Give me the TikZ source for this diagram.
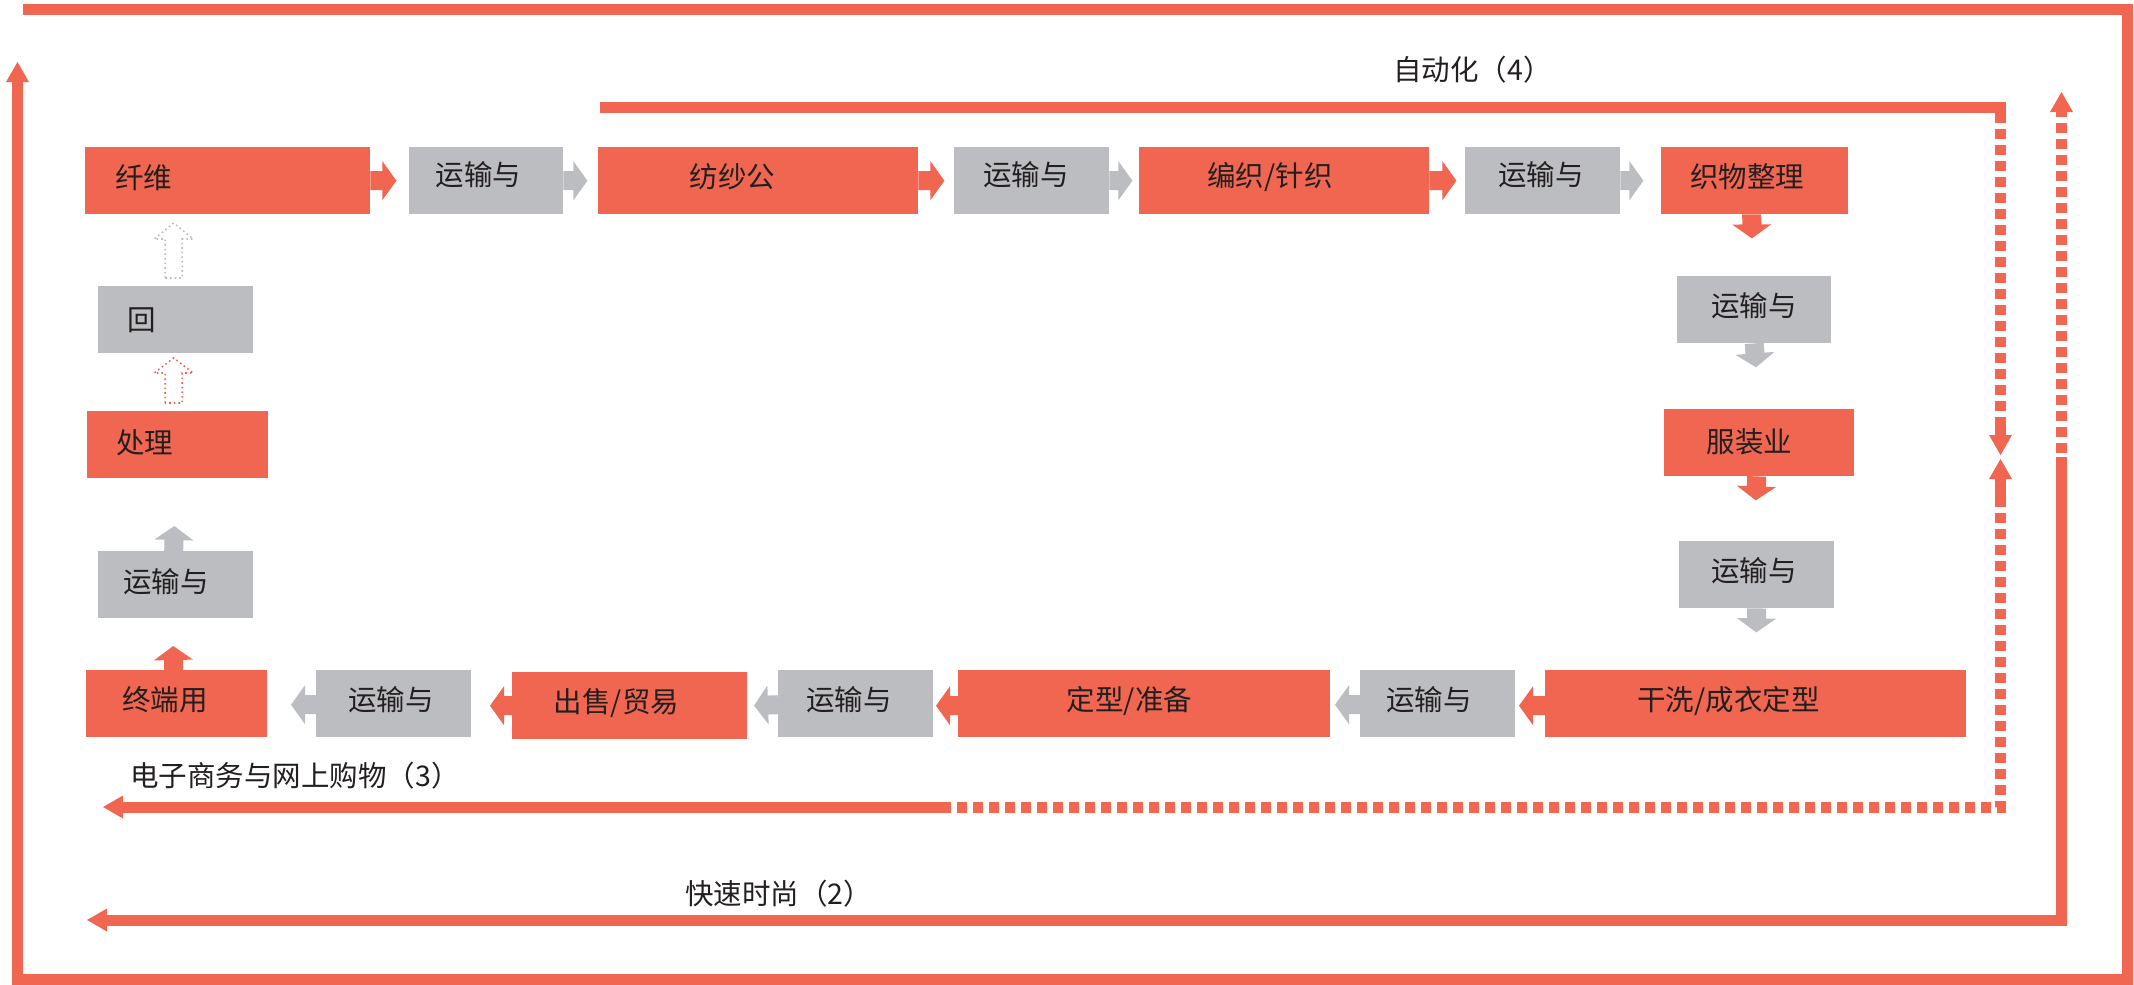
\documentclass[tikz,border=0pt]{standalone}
\usepackage{fontspec}
\newfontfamily\cjk{Noto Sans CJK SC}
\usetikzlibrary{arrows.meta,calc}
\definecolor{myred}{HTML}{F16650}
\definecolor{mygray}{HTML}{BCBDC1}
\definecolor{mytext}{HTML}{231F20}
\tikzset{
  redbox/.style={fill=myred, inner sep=0pt, anchor=north west},
  graybox/.style={fill=mygray, inner sep=0pt, anchor=north west},
  lbl/.style={font=\cjk\fontsize{28.5pt}{30pt}\selectfont, text=mytext, inner sep=0pt},
  loopline/.style={line width=11pt, myred},
  bigtip/.style={-{Triangle[length=20pt,width=23pt,line width=0pt]}},
  dashpat/.style={dash pattern=on 10pt off 6pt},
  dotline/.style={line width=1.6pt, dash pattern=on 1.6pt off 3pt}
}
% block arrow: #1 start, #2 toward, #3 length, #4 colour
\newcommand{\blkarr}[4]{%
  \path (#1) coordinate (ba) ($(#1)!#3pt!(#2)$) coordinate (bb) ($(#1)!#3pt-14pt!(#2)$) coordinate (bc);
  \fill[#4] ($(ba)!9.5pt!90:(bb)$) -- ($(bc)!9.5pt!90:(bb)$) -- ($(bc)!19.5pt!90:(bb)$) -- (bb)
    -- ($(bc)!19.5pt!-90:(bb)$) -- ($(bc)!9.5pt!-90:(bb)$) -- ($(ba)!9.5pt!-90:(bb)$) -- cycle;}
\begin{document}
\begin{tikzpicture}[x=1pt,y=-1pt]
\useasboundingbox (0,0) rectangle (2134,985);

% boxes
\node[redbox,  minimum width=285pt, minimum height=67pt] (b1)  at (85,147) {};
\node[graybox, minimum width=154pt, minimum height=67pt] (b2)  at (409,147) {};
\node[redbox,  minimum width=320pt, minimum height=67pt] (b3)  at (598,147) {};
\node[graybox, minimum width=155pt, minimum height=67pt] (b4)  at (954,147) {};
\node[redbox,  minimum width=290pt, minimum height=67pt] (b5)  at (1139,147) {};
\node[graybox, minimum width=155pt, minimum height=67pt] (b6)  at (1465,147) {};
\node[redbox,  minimum width=187pt, minimum height=67pt] (b7)  at (1661,147) {};
\node[graybox, minimum width=154pt, minimum height=67pt] (b8)  at (1677,276) {};
\node[redbox,  minimum width=190pt, minimum height=67pt] (b9)  at (1664,409) {};
\node[graybox, minimum width=155pt, minimum height=67pt] (b10) at (1679,541) {};
\node[redbox,  minimum width=421pt, minimum height=67pt] (b11) at (1545,670) {};
\node[graybox, minimum width=155pt, minimum height=67pt] (b12) at (1360,670) {};
\node[redbox,  minimum width=372pt, minimum height=67pt] (b13) at (958,670) {};
\node[graybox, minimum width=155pt, minimum height=67pt] (b14) at (778,670) {};
\node[redbox,  minimum width=235pt, minimum height=67pt] (b15) at (512,672) {};
\node[graybox, minimum width=155pt, minimum height=67pt] (b16) at (316,670) {};
\node[redbox,  minimum width=181pt, minimum height=67pt] (b17) at (86,670) {};
\node[graybox, minimum width=155pt, minimum height=67pt] (b18) at (98,551) {};
\node[redbox,  minimum width=181pt, minimum height=67pt] (b19) at (87,411) {};
\node[graybox, minimum width=155pt, minimum height=67pt] (b20) at (98,286) {};

% texts
\node[lbl] (t1)  at (143.5,177.5) {纤维};
\node[lbl] (t2)  at (478.5,175) {运输与};
\node[lbl] (t3)  at (732.5,177) {纺纱公};
\node[lbl] (t4)  at (1026,175) {运输与};
\node[lbl] (t5)  at (1270,177) {编织/针织};
\node[lbl] (t6)  at (1541,175) {运输与};
\node[lbl] (t7)  at (1747,177) {织物整理};
\node[lbl] (t8)  at (1754,305.5) {运输与};
\node[lbl] (t9)  at (1749.5,441.5) {服装业};
\node[lbl] (t10) at (1754,570.5) {运输与};
\node[lbl] (t11) at (1728.5,701) {干洗/成衣定型};
\node[lbl] (t12) at (1429,700) {运输与};
\node[lbl] (t13) at (1129.5,700.5) {定型/准备};
\node[lbl] (t14) at (849,699.5) {运输与};
\node[lbl] (t15) at (616.5,703.5) {出售/贸易};
\node[lbl] (t16) at (391,699.5) {运输与};
\node[lbl] (t17) at (165,699.5) {终端用};
\node[lbl] (t18) at (166,581.5) {运输与};
\node[lbl] (t19) at (144.5,442.5) {处理};
\node[lbl] (t20) at (141.5,320.5) {回};

% block arrows, top row
\blkarr{b1.east}{b2.west}{26}{myred}
\blkarr{b2.east}{b3.west}{24}{mygray}
\blkarr{b3.east}{b4.west}{26}{myred}
\blkarr{b4.east}{b5.west}{23}{mygray}
\blkarr{b5.east}{b6.west}{27}{myred}
\blkarr{b6.east}{b7.west}{23}{mygray}
% right column
\blkarr{[xshift=-3pt]b7.south}{[xshift=-2pt]b8.north}{24}{myred}
\blkarr{b8.south}{b9.north}{24}{mygray}
\blkarr{[xshift=-2.5pt]b9.south}{[xshift=-2.5pt]b10.north}{24}{myred}
\blkarr{b10.south}{b11.north}{24}{mygray}
% bottom row
\blkarr{[yshift=-2pt]b11.west}{[yshift=-2pt]b12.east}{26}{myred}
\blkarr{[yshift=-1pt]b12.west}{[yshift=-1pt]b13.east}{25}{mygray}
\blkarr{[yshift=-2pt]b13.west}{[yshift=-2pt]b14.east}{22}{myred}
\blkarr{[yshift=-1pt]b14.west}{b15.east}{24}{mygray}
\blkarr{b15.west}{[yshift=-2pt]b16.east}{22}{myred}
\blkarr{[yshift=-1pt]b16.west}{[yshift=-1pt]b17.east}{25}{mygray}
% left column
\blkarr{[xshift=-3pt]b17.north}{[xshift=-3pt]b18.south}{24}{myred}
\blkarr{[xshift=-2pt]b18.north}{[xshift=-2pt]b19.south}{25}{mygray}
% dotted outline arrows
\draw[dotline, myred] ([xshift=-12.5pt,yshift=8pt]b19.north) -- ++(0,-30) -- ++(-11,0) -- ++(19.5,-15) -- ++(19.5,15) -- ++(-11,0) -- ++(0,30) -- cycle;
\draw[dotline, mygray] ([xshift=-10.5pt,yshift=8pt]b20.north) -- ++(0,-39) -- ++(-11,0) -- ++(19.5,-16) -- ++(19.5,16) -- ++(-11,0) -- ++(0,39) -- cycle;

% outer loop
\coordinate (o1) at (23,9.5);
\coordinate (o2) at (2127.5,9.5);
\coordinate (o3) at (2127.5,979);
\coordinate (o4) at (17.5,979);
\coordinate (o5) at (17.5,62);
\draw[loopline, bigtip] (o1) -- (o2) -- (o3) -- (o4) -- (o5);

% fast fashion (2)
\coordinate (f1) at (2061.5,457);
\coordinate (f2) at (2061.5,920);
\coordinate (f3) at (87,920);
\coordinate (f4) at (2061.5,453);
\coordinate (f5) at (2061.5,92);
\draw[loopline, bigtip] (f1) -- (f2) -- (f3);
\draw[loopline, dashpat, bigtip] (f4) -- (f5);

% automation (4)
\coordinate (z1) at (600,107.5);
\coordinate (z2) at (2006,107.5);
\coordinate (z3) at (2000.5,113);
\coordinate (z4) at (2000.5,419);
\coordinate (z5) at (2000.5,455);
\draw[loopline] (z1) -- (z2);
\draw[loopline, dashpat] (z3) -- (z4);
\draw[loopline, bigtip] (z4) -- (z5);

% e-commerce (3)
\coordinate (e1) at (2000.5,459);
\coordinate (e2) at (2000.5,497);
\coordinate (e3) at (2000.5,807);
\coordinate (e4) at (948,807);
\coordinate (e5) at (103,807);
\draw[loopline, bigtip] (e2) -- (e1);
\draw[loopline, dashpat] (e2) -- (e3) -- (e4);
\draw[loopline, bigtip] (e4) -- (e5);

% labels
\node[lbl, anchor=west] (l4) at (1393,69.5) {自动化（4）};
\node[lbl, anchor=west] (l3) at (130,775.5) {电子商务与网上购物（3）};
\node[lbl, anchor=west] (l2) at (685,893.5) {快速时尚（2）};
\end{tikzpicture}
\end{document}
